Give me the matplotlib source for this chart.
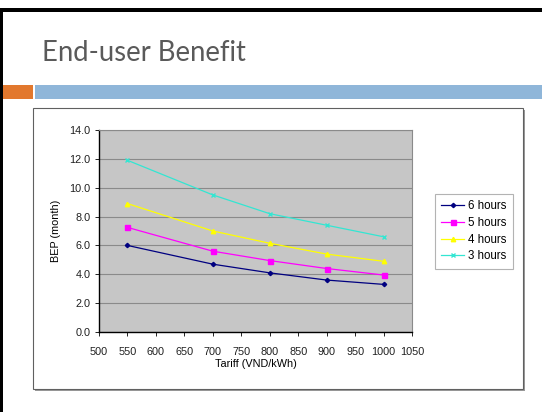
import matplotlib
matplotlib.use("Agg")
import matplotlib.pyplot as plt
from matplotlib.patches import Rectangle
import numpy as np

# Tariff levels and break-even period (months) per daily usage
tariff = [550, 700, 800, 900, 1000]
bep_6h = [6.0, 4.7, 4.1, 3.6, 3.3]
bep_5h = [7.25, 5.6, 4.95, 4.4, 3.95]
bep_4h = [8.9, 7.0, 6.15, 5.4, 4.9]
bep_3h = [11.9, 9.5, 8.2, 7.4, 6.6]
series_labels = ["6 hours", "5 hours", "4 hours", "3 hours"]
x_ticks = [500, 550, 600, 650, 700, 750, 800, 850, 900, 950, 1000, 1050]
y_ticks = [0, 2, 4, 6, 8, 10, 12, 14]

W, H = 542, 412
fig = plt.figure(figsize=(W / 100, H / 100), dpi=100)
fig.patch.set_facecolor("white")

def fx(px):
    return px / W

def fy(py):
    return 1 - py / H

# Slide frame and header bars
fig.patches.append(Rectangle((0, fy(12)), 1, 4 / H, transform=fig.transFigure,
                             facecolor="black", edgecolor="none", zorder=-3))
fig.patches.append(Rectangle((0, 0), 3 / W, fy(8), transform=fig.transFigure,
                             facecolor="black", edgecolor="none", zorder=-3))
fig.patches.append(Rectangle((fx(3), fy(99)), 30 / W, 14 / H, transform=fig.transFigure,
                             facecolor="#E2782E", edgecolor="none", zorder=-3))
fig.patches.append(Rectangle((fx(35), fy(99)), (W - 35) / W, 14 / H, transform=fig.transFigure,
                             facecolor="#8FB6D9", edgecolor="none", zorder=-3))

fig.text(fx(42), fy(53), "End-user Benefit", fontsize=19.8, color="#5A5A5A",
         family="Lato", va="center", ha="left")

# Chart area border with a light shadow
fig.patches.append(Rectangle((fx(35), fy(391)), 490 / W, 281 / H, transform=fig.transFigure,
                             facecolor="#9A9A9A", edgecolor="none", zorder=-2))
fig.patches.append(Rectangle((fx(33), fy(389)), 490 / W, 281 / H, transform=fig.transFigure,
                             facecolor="white", edgecolor="#606060", linewidth=0.8, zorder=-1))

ax = fig.add_axes([fx(99), fy(332), (412 - 99) / W, (332 - 130) / H])
ax.set_facecolor("#C6C6C6")
ax.set_xlim(500, 1050)
ax.set_ylim(0, 14)
ax.set_xticks(x_ticks)
ax.set_yticks(y_ticks)
ax.set_yticklabels([f"{v:.1f}" for v in y_ticks])
ax.yaxis.grid(True, color="#8A8A8A", linewidth=0.8)
ax.set_axisbelow(True)
for side in ["top", "right"]:
    ax.spines[side].set_color("#8A8A8A")
    ax.spines[side].set_linewidth(0.8)
for side in ["left", "bottom"]:
    ax.spines[side].set_color("black")
    ax.spines[side].set_linewidth(1.0)
ax.tick_params(axis="both", labelsize=7.8, length=3, width=0.6, colors="black",
               direction="out")
ax.tick_params(axis="x", pad=7.5)
ax.tick_params(axis="y", pad=3)
for lbl in ax.get_xticklabels() + ax.get_yticklabels():
    lbl.set_family("Liberation Sans")
    lbl.set_color("#202020")

styles = [
    dict(color="#000080", marker="D", markersize=2.2),
    dict(color="#FF00FF", marker="s", markersize=3.6),
    dict(color="#FFFF00", marker="^", markersize=3.2),
    dict(color="#33E6D2", marker="x", markersize=3),
]
for vals, lab, st in zip([bep_6h, bep_5h, bep_4h, bep_3h], series_labels, styles):
    ax.plot(tariff, vals, label=lab, linewidth=0.9, **st)

ax.set_xlabel("Tariff (VND/kWh)", fontsize=7.8, family="Liberation Sans", labelpad=2)
ax.set_ylabel("BEP (month)", fontsize=7.8, family="Liberation Sans", labelpad=6)

leg = fig.legend(loc="upper left", bbox_to_anchor=(fx(435), fy(194)),
                 prop={"family": "Liberation Sans", "size": 8.3},
                 frameon=True, fancybox=False, edgecolor="#A0A0A0",
                 handlelength=2.0, handletextpad=0.3, borderpad=0.55,
                 labelspacing=0.4, borderaxespad=0)
leg.get_frame().set_linewidth(0.8)

fig.savefig("out.png", dpi=100)
